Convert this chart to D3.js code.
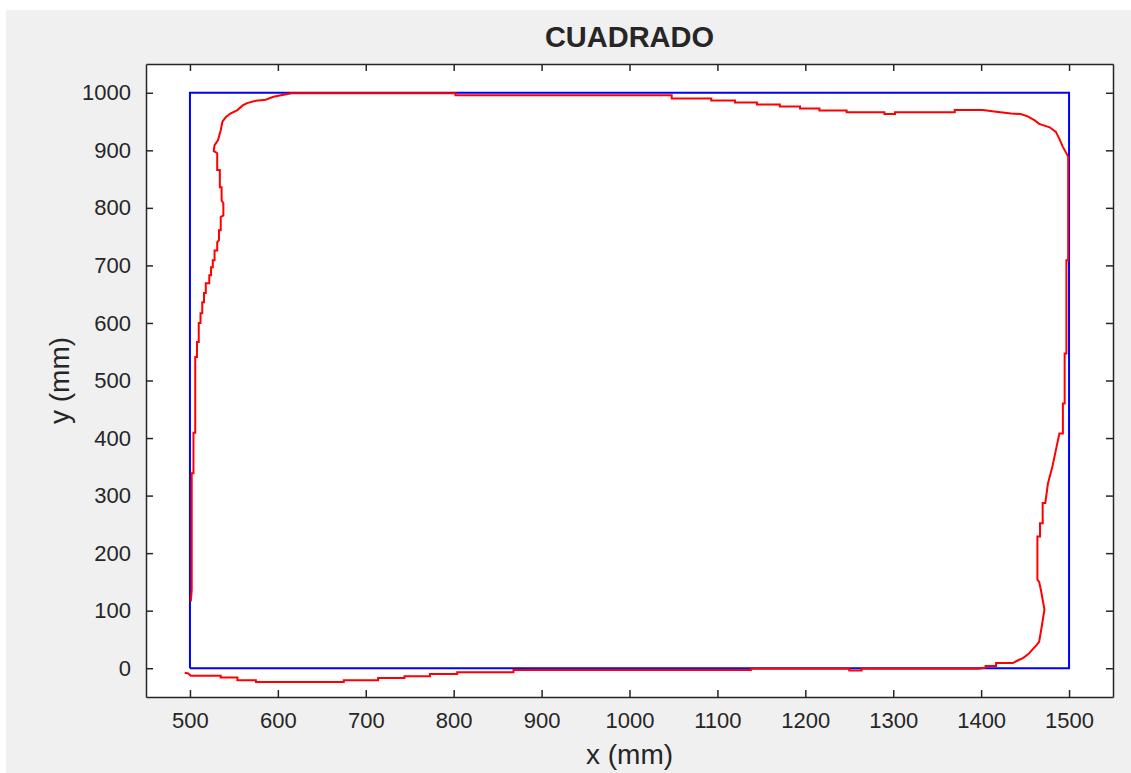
<!DOCTYPE html>
<html>
<head>
<meta charset="utf-8">
<script src="https://cdn.jsdelivr.net/npm/d3@7"></script>
<style>
  body { margin: 0; background: #ffffff; }
  svg { display: block; }
  text { font-family: "Liberation Sans", Arial, sans-serif; fill: #262626; }
</style>
</head>
<body>
<div id="chart"></div>
<script>
const svgWidth = 1131
const svgHeight = 773

// axis limits and ticks
const xDomain = [450, 1550]
const yDomain = [-50, 1050]
const xTicks = [500, 600, 700, 800, 900, 1000, 1100, 1200, 1300, 1400, 1500]
const yTicks = [0, 100, 200, 300, 400, 500, 600, 700, 800, 900, 1000]

// reference square (blue)
const squareX = [500, 1500, 1500, 500, 500]
const squareY = [0, 0, 1000, 1000, 0]

const bottomPath = [
  [494, -8], [498, -9], [501, -13], [535, -13], [535, -16], [554, -16], [554, -21],
  [575, -21], [575, -24], [675, -24], [675, -21], [714, -21], [714, -17], [744, -17],
  [744, -14], [773, -14], [773, -10], [804, -10], [804, -7], [868, -7], [868, -3],
  [1138, -3], [1138, -1], [1250, -1], [1250, -4], [1264, -4], [1264, -1], [1397, -1]
]
const rightPath = [
  [1405, 1], [1405, 4], [1417, 4], [1417, 9], [1436, 9], [1441, 13], [1448, 18],
  [1454, 25], [1458, 32], [1463, 40], [1466, 46], [1469, 73], [1472, 102], [1470, 119],
  [1468, 136], [1466, 150], [1464, 154], [1464, 229], [1467, 229], [1467, 252],
  [1470, 252], [1470, 287], [1473, 287], [1476, 321], [1481, 350], [1485, 379],
  [1489, 408], [1493, 408], [1493, 460], [1495, 460], [1495, 547], [1497, 547],
  [1497, 709], [1499, 709], [1499, 889]
]
const topPath = [
  [1493, 906], [1489, 920], [1485, 932], [1478, 940], [1466, 946], [1461, 952],
  [1453, 959], [1445, 963], [1434, 964], [1417, 967], [1402, 970], [1370, 970],
  [1370, 966], [1302, 966], [1302, 963], [1290, 963], [1290, 966], [1247, 966],
  [1247, 969], [1216, 969], [1216, 972.5], [1194, 972.5], [1194, 976], [1171, 976],
  [1171, 979.5], [1145, 979.5], [1145, 983], [1120, 983], [1120, 986.5], [1093, 986.5],
  [1093, 990], [1048, 990], [1048, 995.5], [802, 995.5], [802, 999], [616, 999]
]
const leftPath = [
  [605, 996], [595, 993], [586, 988], [575, 986], [565, 982], [560, 978], [554, 970],
  [546, 964], [541, 958], [537, 950], [535, 935], [532, 918], [528, 909], [527, 899],
  [531, 895], [531, 866], [534, 866], [534, 836], [536, 836], [536, 813], [538, 808],
  [538, 787], [535, 784], [535, 761], [533, 761], [533, 744], [531, 740], [531, 726],
  [528, 726], [528, 709], [526, 709], [526, 697], [524, 697], [524, 683], [522, 683],
  [522, 669], [518, 669], [518, 652], [516, 652], [516, 636], [514, 636], [514, 617],
  [512, 617], [512, 600], [510, 600], [510, 567], [508, 567], [508, 541], [506, 541],
  [506, 409], [504, 409], [504, 339], [502, 339], [502, 136], [501, 116]
]

const measured = bottomPath.concat(rightPath, topPath, leftPath)
const square = squareX.map((x, i) => [x, squareY[i]])

const margin = { top: 64, right: 18, bottom: 76, left: 146 }
const plotW = svgWidth - margin.left - margin.right
const plotH = svgHeight - margin.top - margin.bottom

const svg = d3.select("#chart").append("svg")
  .attr("width", svgWidth)
  .attr("height", svgHeight)

// figure background
svg.append("rect")
  .attr("x", 6).attr("y", 10)
  .attr("width", svgWidth - 6).attr("height", svgHeight - 10)
  .attr("fill", "#f0f0f0")

const g = svg.append("g")
  .attr("transform", `translate(${margin.left}, ${margin.top})`)

g.append("rect")
  .attr("width", plotW).attr("height", plotH)
  .attr("fill", "#ffffff")

const x = d3.scaleLinear().domain(xDomain).range([0, plotW])
const y = d3.scaleLinear().domain(yDomain).range([plotH, 0])

const line = d3.line().x(d => x(d[0])).y(d => y(d[1]))

g.append("path")
  .datum(square)
  .attr("d", line)
  .attr("fill", "none")
  .attr("stroke", "#0000ff")
  .attr("stroke-width", 2)

g.append("path")
  .datum(measured)
  .attr("d", line)
  .attr("fill", "none")
  .attr("stroke", "#ff0000")
  .attr("stroke-width", 2)

const tickLen = 7
const fmt = d3.format("d")

const styleAxis = sel => {
  sel.selectAll("path.domain").attr("stroke", "#262626").attr("stroke-width", 1.5)
  sel.selectAll(".tick line").attr("stroke", "#262626").attr("stroke-width", 1.5)
  sel.selectAll(".tick text")
    .style("font-size", "22px")
    .attr("fill", "#262626")
}

g.append("g")
  .attr("transform", `translate(0, ${plotH})`)
  .call(d3.axisBottom(x).tickValues(xTicks).tickFormat(fmt).tickSizeInner(-tickLen).tickSizeOuter(0).tickPadding(15))
  .call(styleAxis)

g.append("g")
  .call(d3.axisTop(x).tickValues(xTicks).tickSizeInner(-tickLen).tickSizeOuter(0).tickFormat(""))
  .call(styleAxis)

g.append("g")
  .call(d3.axisLeft(y).tickValues(yTicks).tickFormat(fmt).tickSizeInner(-tickLen).tickSizeOuter(0).tickPadding(15))
  .call(styleAxis)

g.append("g")
  .attr("transform", `translate(${plotW}, 0)`)
  .call(d3.axisRight(y).tickValues(yTicks).tickSizeInner(-tickLen).tickSizeOuter(0).tickFormat(""))
  .call(styleAxis)

// title and axis labels
svg.append("text")
  .attr("x", margin.left + plotW / 2)
  .attr("y", 47)
  .attr("text-anchor", "middle")
  .style("font-size", "29px")
  .style("font-weight", "bold")
  .attr("fill", "#000000")
  .text("CUADRADO")

svg.append("text")
  .attr("x", margin.left + plotW / 2)
  .attr("y", 764)
  .attr("text-anchor", "middle")
  .style("font-size", "28px")
  .text("x (mm)")

svg.append("text")
  .attr("transform", `translate(69, ${margin.top + y(500)}) rotate(-90)`)
  .attr("text-anchor", "middle")
  .style("font-size", "28px")
  .text("y (mm)")
</script>
</body>
</html>
